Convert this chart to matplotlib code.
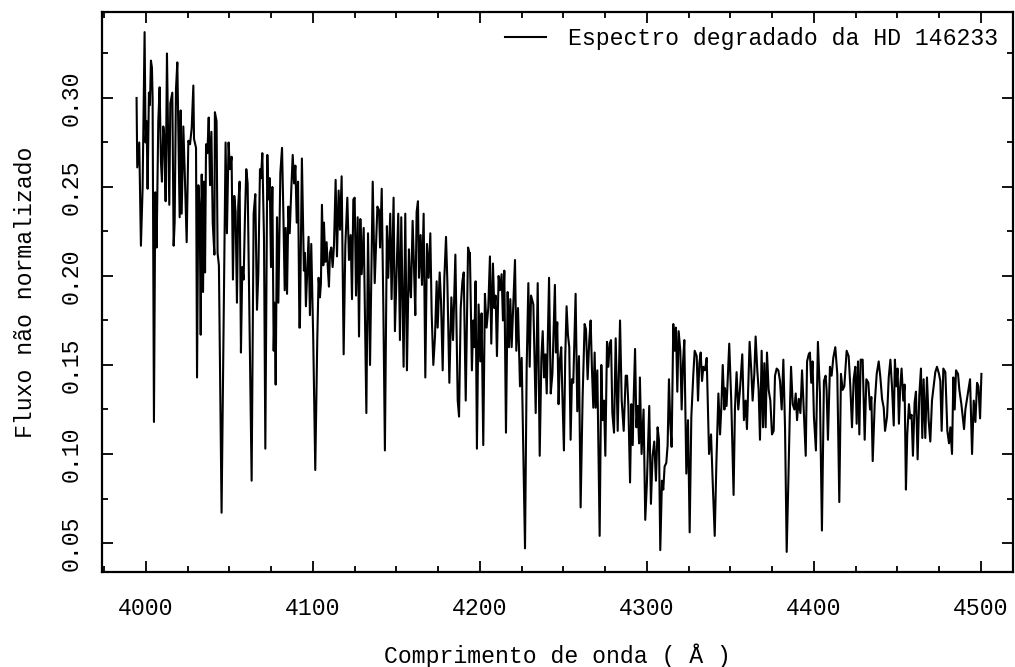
import matplotlib
matplotlib.use("Agg")
import matplotlib.pyplot as plt
from matplotlib.ticker import MultipleLocator, FormatStrFormatter

# valores (comprimento de onda em A, fluxo nao normalizado)
wavelength = [
    3994.4, 3994.8, 3996.0, 3997.0, 3998.0, 3999.2, 3999.8, 4000.4, 4001.0, 4001.8,
    4002.4, 4003.0, 4003.6, 4004.0, 4004.8, 4005.6, 4006.4, 4007.4, 4008.2, 4009.0,
    4009.6, 4010.4, 4011.0, 4011.8, 4012.6, 4013.2, 4014.0, 4014.6, 4015.2, 4015.8,
    4016.6, 4017.2, 4018.0, 4018.8, 4019.4, 4020.2, 4020.8, 4021.4, 4022.4, 4023.4,
    4024.4, 4025.4, 4026.4, 4027.4, 4028.4, 4028.8, 4030.0, 4030.6, 4031.4, 4032.2,
    4032.8, 4033.4, 4034.2, 4034.8, 4035.4, 4036.0, 4036.8, 4037.6, 4038.4, 4039.2,
    4040.0, 4041.0,
    4041.3, 4042.3, 4042.9, 4043.7, 4045.3, 4047.7, 4048.5, 4049.5, 4050.3, 4051.3,
    4052.1, 4052.9, 4053.7, 4054.5, 4055.3, 4056.1, 4056.9, 4057.7, 4058.5, 4059.3,
    4060.1, 4060.9, 4063.3, 4064.5, 4065.5, 4066.5, 4067.3, 4068.3, 4068.9, 4069.7,
    4070.7, 4071.5, 4072.7, 4073.3, 4074.1, 4074.9, 4075.7, 4076.5, 4077.1, 4077.7,
    4078.5, 4079.3, 4080.5, 4081.5, 4082.3, 4083.1, 4083.7, 4084.5, 4085.3, 4086.1,
    4087.1, 4087.9, 4088.7, 4089.5, 4090.3, 4091.1, 4091.9,
    4092.2, 4093.4, 4094.6, 4095.2, 4095.8, 4096.6, 4097.4, 4098.2, 4099.0, 4100.2,
    4101.4, 4102.6, 4103.4, 4104.2, 4104.8, 4105.4, 4106.2, 4106.6, 4107.4, 4108.2,
    4109.0, 4109.6, 4110.2, 4111.0, 4111.8, 4112.6, 4113.6, 4114.4, 4115.4, 4116.2,
    4117.2, 4118.4, 4119.4, 4120.6, 4121.6, 4122.6, 4123.4, 4124.2, 4125.0, 4125.8,
    4126.8, 4127.6, 4128.4, 4129.2, 4130.4, 4132.0, 4133.0, 4134.2, 4135.8, 4137.0,
    4138.6, 4139.6, 4140.2, 4141.2, 4142.2,
    4143.1, 4144.3, 4145.1, 4146.3, 4147.1, 4148.3, 4149.1, 4149.9, 4151.1, 4152.1,
    4152.9, 4154.3, 4155.3, 4156.3, 4157.5, 4158.1, 4158.7, 4159.7, 4160.5, 4161.3,
    4162.1, 4162.9, 4163.5, 4164.5, 4165.3, 4166.3, 4167.3, 4168.3, 4169.3, 4170.3,
    4171.1, 4172.1, 4173.1, 4174.1, 4174.7, 4175.9, 4176.7, 4177.7, 4178.7, 4179.7,
    4180.5, 4181.7, 4182.9, 4183.9, 4185.3, 4186.7, 4187.5, 4188.5, 4189.5, 4190.3,
    4191.5, 4192.9, 4193.9,
    4194.0, 4195.2, 4196.0, 4196.6, 4197.4, 4198.2, 4199.2, 4200.2, 4201.0, 4202.0,
    4203.0, 4204.0, 4205.0, 4206.0, 4206.8, 4207.8, 4208.6, 4209.4, 4210.2, 4211.2,
    4212.0, 4213.0, 4213.8, 4214.6, 4215.6, 4216.6, 4217.4, 4218.2, 4219.0, 4220.0,
    4221.0, 4221.8, 4222.8, 4224.0, 4225.0, 4227.0, 4228.0, 4229.0, 4229.8, 4230.6,
    4232.0, 4233.4, 4234.6, 4235.8, 4236.8, 4237.6, 4238.4, 4239.2, 4240.0, 4241.4,
    4242.4, 4243.4,
    4244.9, 4245.5, 4246.3, 4247.1, 4247.9, 4248.7, 4249.3, 4250.3, 4251.1, 4251.9,
    4252.7, 4253.5, 4254.3, 4255.1, 4255.9, 4257.3, 4258.3, 4259.3, 4260.3, 4261.5,
    4262.7, 4263.5, 4264.5, 4265.5, 4266.3, 4267.1, 4267.9, 4268.7, 4269.3, 4270.3,
    4271.7, 4272.7, 4273.5, 4274.3, 4275.1, 4276.1, 4276.9, 4277.7, 4278.5, 4279.3,
    4280.3, 4281.3, 4282.5, 4283.9, 4284.9, 4286.1, 4287.3, 4288.1, 4288.9, 4289.9,
    4290.7, 4291.5, 4292.1, 4292.9, 4293.7, 4294.5, 4295.3,
    4295.8, 4296.8, 4298.0, 4299.0, 4300.0, 4301.4, 4302.4, 4303.4, 4304.4, 4305.4,
    4306.4, 4307.2, 4308.0, 4309.0, 4309.8, 4310.6, 4311.6, 4312.4, 4313.2, 4314.0,
    4314.8, 4315.8, 4316.6, 4317.4, 4318.2, 4319.0, 4320.0, 4320.8, 4321.6, 4322.4,
    4323.6, 4324.6, 4325.6, 4326.6, 4327.8, 4328.6, 4329.8, 4330.6, 4331.4, 4332.2,
    4333.0, 4333.8, 4334.8, 4335.8, 4337.2, 4338.4, 4339.4, 4340.6, 4341.6, 4342.8,
    4343.8, 4344.6, 4345.4, 4346.4,
    4346.7, 4347.7, 4349.3, 4350.5, 4351.9, 4352.7, 4353.7, 4354.7, 4355.7, 4357.1,
    4358.1, 4359.1, 4359.9, 4361.5, 4362.5, 4363.3, 4364.3, 4365.1, 4366.1, 4366.9,
    4367.7, 4368.7, 4369.5, 4370.3, 4371.1, 4371.9, 4372.9, 4373.9, 4374.9, 4375.9,
    4376.7, 4377.7, 4378.7, 4379.7, 4380.7, 4381.7, 4382.7, 4383.7, 4384.7, 4385.5,
    4386.3, 4387.3, 4388.3, 4389.1, 4389.9, 4390.9, 4391.9, 4392.9, 4393.9, 4395.1,
    4395.9, 4396.9,
    4397.6, 4398.4, 4399.2, 4400.0, 4401.2, 4402.4, 4403.6, 4404.8, 4406.0, 4407.0,
    4407.6, 4408.4, 4409.6, 4410.6, 4411.6, 4412.8, 4414.0, 4415.2, 4416.2, 4417.2,
    4418.2, 4419.6, 4420.8, 4421.8, 4422.8, 4423.8, 4424.8, 4425.6, 4426.4, 4427.2,
    4428.0, 4429.2, 4430.4, 4431.4, 4432.6, 4433.6, 4434.4, 4435.2, 4436.4, 4437.6,
    4438.8, 4439.8, 4440.8, 4441.8, 4442.6, 4443.8, 4444.8, 4445.8, 4446.8, 4447.8,
    4448.5, 4449.3, 4450.1, 4450.9, 4451.7, 4452.5, 4453.5, 4454.3, 4455.1, 4455.9,
    4456.9, 4457.7, 4458.5, 4459.3, 4460.3, 4461.1, 4462.1, 4463.1, 4464.1, 4464.9,
    4465.7, 4466.7, 4467.7, 4468.7, 4469.7, 4470.7, 4471.7, 4472.7, 4473.7, 4474.9,
    4475.7, 4476.5, 4477.5, 4478.7, 4479.9, 4480.9, 4481.7, 4482.7, 4483.5, 4484.3,
    4485.1, 4486.3, 4487.1, 4488.3, 4489.1, 4489.9, 4490.7, 4491.7, 4492.7, 4493.5,
    4494.7, 4495.7, 4496.7, 4497.7, 4498.5, 4499.5, 4500.3,
]

flux = [
    0.300, 0.261, 0.275, 0.217, 0.249, 0.337, 0.275, 0.287, 0.249, 0.303,
    0.296, 0.321, 0.317, 0.300, 0.118, 0.247, 0.216, 0.287, 0.306, 0.264,
    0.253, 0.284, 0.279, 0.242, 0.325, 0.284, 0.240, 0.297, 0.300, 0.303,
    0.217, 0.230, 0.305, 0.320, 0.284, 0.233, 0.293, 0.235, 0.284, 0.253,
    0.219, 0.276, 0.274, 0.283, 0.307, 0.277, 0.272, 0.143, 0.251, 0.238,
    0.167, 0.257, 0.191, 0.253, 0.202, 0.274, 0.269, 0.289, 0.251, 0.281,
    0.230, 0.212,
    0.292, 0.287, 0.213, 0.206, 0.067, 0.275, 0.224, 0.275, 0.260, 0.267,
    0.198, 0.245, 0.236, 0.185, 0.240, 0.253, 0.157, 0.205, 0.198, 0.233,
    0.260, 0.252, 0.085, 0.235, 0.246, 0.181, 0.201, 0.260, 0.255, 0.269,
    0.221, 0.103, 0.268, 0.243, 0.255, 0.205, 0.250, 0.158, 0.185, 0.139,
    0.233, 0.185, 0.258, 0.272, 0.235, 0.192, 0.227, 0.190, 0.239, 0.224,
    0.250, 0.268, 0.252, 0.262, 0.230, 0.253, 0.171,
    0.171, 0.266, 0.203, 0.213, 0.183, 0.203, 0.222, 0.178, 0.218, 0.164,
    0.091, 0.164, 0.199, 0.188, 0.196, 0.240, 0.206, 0.230, 0.208, 0.219,
    0.203, 0.194, 0.213, 0.216, 0.205, 0.217, 0.254, 0.211, 0.248, 0.226,
    0.256, 0.156, 0.217, 0.244, 0.209, 0.223, 0.187, 0.243, 0.244, 0.189,
    0.233, 0.166, 0.232, 0.201, 0.227, 0.123, 0.224, 0.150, 0.253, 0.196,
    0.239, 0.237, 0.216, 0.249, 0.180,
    0.102, 0.228, 0.199, 0.235, 0.187, 0.244, 0.169, 0.195, 0.235, 0.164,
    0.233, 0.149, 0.235, 0.147, 0.215, 0.195, 0.188, 0.231, 0.206, 0.178,
    0.236, 0.242, 0.199, 0.223, 0.195, 0.235, 0.143, 0.218, 0.199, 0.224,
    0.179, 0.150, 0.166, 0.197, 0.171, 0.202, 0.186, 0.147, 0.199, 0.222,
    0.197, 0.140, 0.188, 0.164, 0.212, 0.130, 0.121, 0.182, 0.197, 0.202,
    0.130, 0.216, 0.212,
    0.213, 0.147, 0.175, 0.160, 0.197, 0.103, 0.184, 0.152, 0.179, 0.105,
    0.190, 0.171, 0.182, 0.211, 0.162, 0.207, 0.182, 0.189, 0.155, 0.200,
    0.192, 0.201, 0.175, 0.203, 0.112, 0.191, 0.160, 0.187, 0.160, 0.184,
    0.209, 0.158, 0.182, 0.138, 0.154, 0.047, 0.149, 0.196, 0.149, 0.189,
    0.184, 0.123, 0.196, 0.099, 0.154, 0.169, 0.143, 0.156, 0.134, 0.199,
    0.134, 0.145,
    0.195, 0.157, 0.174, 0.128, 0.153, 0.160, 0.136, 0.102, 0.155, 0.183,
    0.167, 0.160, 0.108, 0.142, 0.140, 0.190, 0.124, 0.155, 0.070, 0.132,
    0.173, 0.170, 0.142, 0.164, 0.175, 0.147, 0.126, 0.157, 0.126, 0.147,
    0.054, 0.150, 0.119, 0.130, 0.099, 0.163, 0.149, 0.162, 0.164, 0.123,
    0.112, 0.165, 0.113, 0.175, 0.130, 0.113, 0.144, 0.144, 0.127, 0.084,
    0.128, 0.105, 0.132, 0.159, 0.115, 0.127, 0.106,
    0.143, 0.100, 0.125, 0.063, 0.084, 0.127, 0.072, 0.099, 0.107, 0.085,
    0.115, 0.108, 0.046, 0.085, 0.080, 0.093, 0.095, 0.105, 0.142, 0.117,
    0.104, 0.173, 0.158, 0.171, 0.135, 0.169, 0.158, 0.125, 0.151, 0.164,
    0.089, 0.119, 0.056, 0.121, 0.145, 0.158, 0.155, 0.130, 0.151, 0.157,
    0.141, 0.149, 0.147, 0.154, 0.100, 0.111, 0.084, 0.054, 0.095, 0.134,
    0.111, 0.127, 0.150, 0.125,
    0.137, 0.127, 0.162, 0.130, 0.077, 0.125, 0.146, 0.125, 0.136, 0.156,
    0.119, 0.130, 0.114, 0.163, 0.147, 0.130, 0.145, 0.166, 0.147, 0.136,
    0.108, 0.158, 0.115, 0.151, 0.115, 0.157, 0.136, 0.130, 0.111, 0.113,
    0.144, 0.148, 0.147, 0.141, 0.125, 0.153, 0.115, 0.045, 0.085, 0.120,
    0.149, 0.128, 0.125, 0.134, 0.119, 0.131, 0.123, 0.147, 0.125, 0.099,
    0.152, 0.156,
    0.157, 0.140, 0.152, 0.121, 0.102, 0.163, 0.134, 0.057, 0.141, 0.144,
    0.136, 0.108, 0.149, 0.144, 0.154, 0.160, 0.145, 0.073, 0.145, 0.136,
    0.138, 0.158, 0.155, 0.138, 0.115, 0.142, 0.149, 0.117, 0.152, 0.111,
    0.153, 0.153, 0.108, 0.142, 0.140, 0.125, 0.132, 0.096, 0.128, 0.145,
    0.152, 0.143, 0.131, 0.126, 0.113, 0.121, 0.143, 0.153, 0.137, 0.116,
    0.153, 0.138, 0.148, 0.117, 0.138, 0.148, 0.130, 0.139, 0.080, 0.111,
    0.128, 0.120, 0.122, 0.099, 0.129, 0.135, 0.097, 0.133, 0.148, 0.109,
    0.142, 0.109, 0.143, 0.119, 0.107, 0.130, 0.138, 0.146, 0.149, 0.145,
    0.141, 0.113, 0.148, 0.146, 0.113, 0.106, 0.115, 0.100, 0.143, 0.125,
    0.147, 0.145, 0.136, 0.128, 0.121, 0.114, 0.125, 0.131, 0.137, 0.142,
    0.100, 0.130, 0.118, 0.140, 0.138, 0.120, 0.145,
]

legend_label = "Espectro degradado da HD 146233"

plt.rcParams['font.family'] = ['Liberation Mono', 'DejaVu Sans Mono']
plt.rcParams['font.size'] = 16.7

fig = plt.figure(figsize=(10.15, 6.67), dpi=100)
ax = fig.add_axes([0.1005, 0.1424, 0.8975, 0.8396])

ax.plot(wavelength, flux, color='black', linewidth=1.5, label=legend_label)

ax.set_xlim(3973.7, 4519.2)
ax.set_ylim(0.0337, 0.3483)

ax.xaxis.set_major_locator(MultipleLocator(100))
ax.xaxis.set_minor_locator(MultipleLocator(25))
ax.yaxis.set_major_locator(MultipleLocator(0.05))
ax.yaxis.set_minor_locator(MultipleLocator(0.025))
ax.yaxis.set_major_formatter(FormatStrFormatter('%.2f'))

ax.tick_params(which='both', direction='in', top=True, right=True, width=1.3)
ax.tick_params(which='major', length=8)
ax.tick_params(which='minor', length=4)
ax.tick_params(axis='x', which='major', pad=18)
ax.tick_params(axis='y', which='major', pad=14)
for lab in ax.get_yticklabels():
    lab.set_rotation(90)
    lab.set_va('center')

for sp in ax.spines.values():
    sp.set_linewidth(1.6)

ax.set_xlabel("Comprimento de onda ( Å )", labelpad=17)
ax.set_ylabel("Fluxo não normalizado", labelpad=16)

ax.legend(loc='upper right', frameon=False, handlelength=1.75, handletextpad=0.95,
          borderaxespad=0.25)

fig.savefig("out.png", dpi=100)
